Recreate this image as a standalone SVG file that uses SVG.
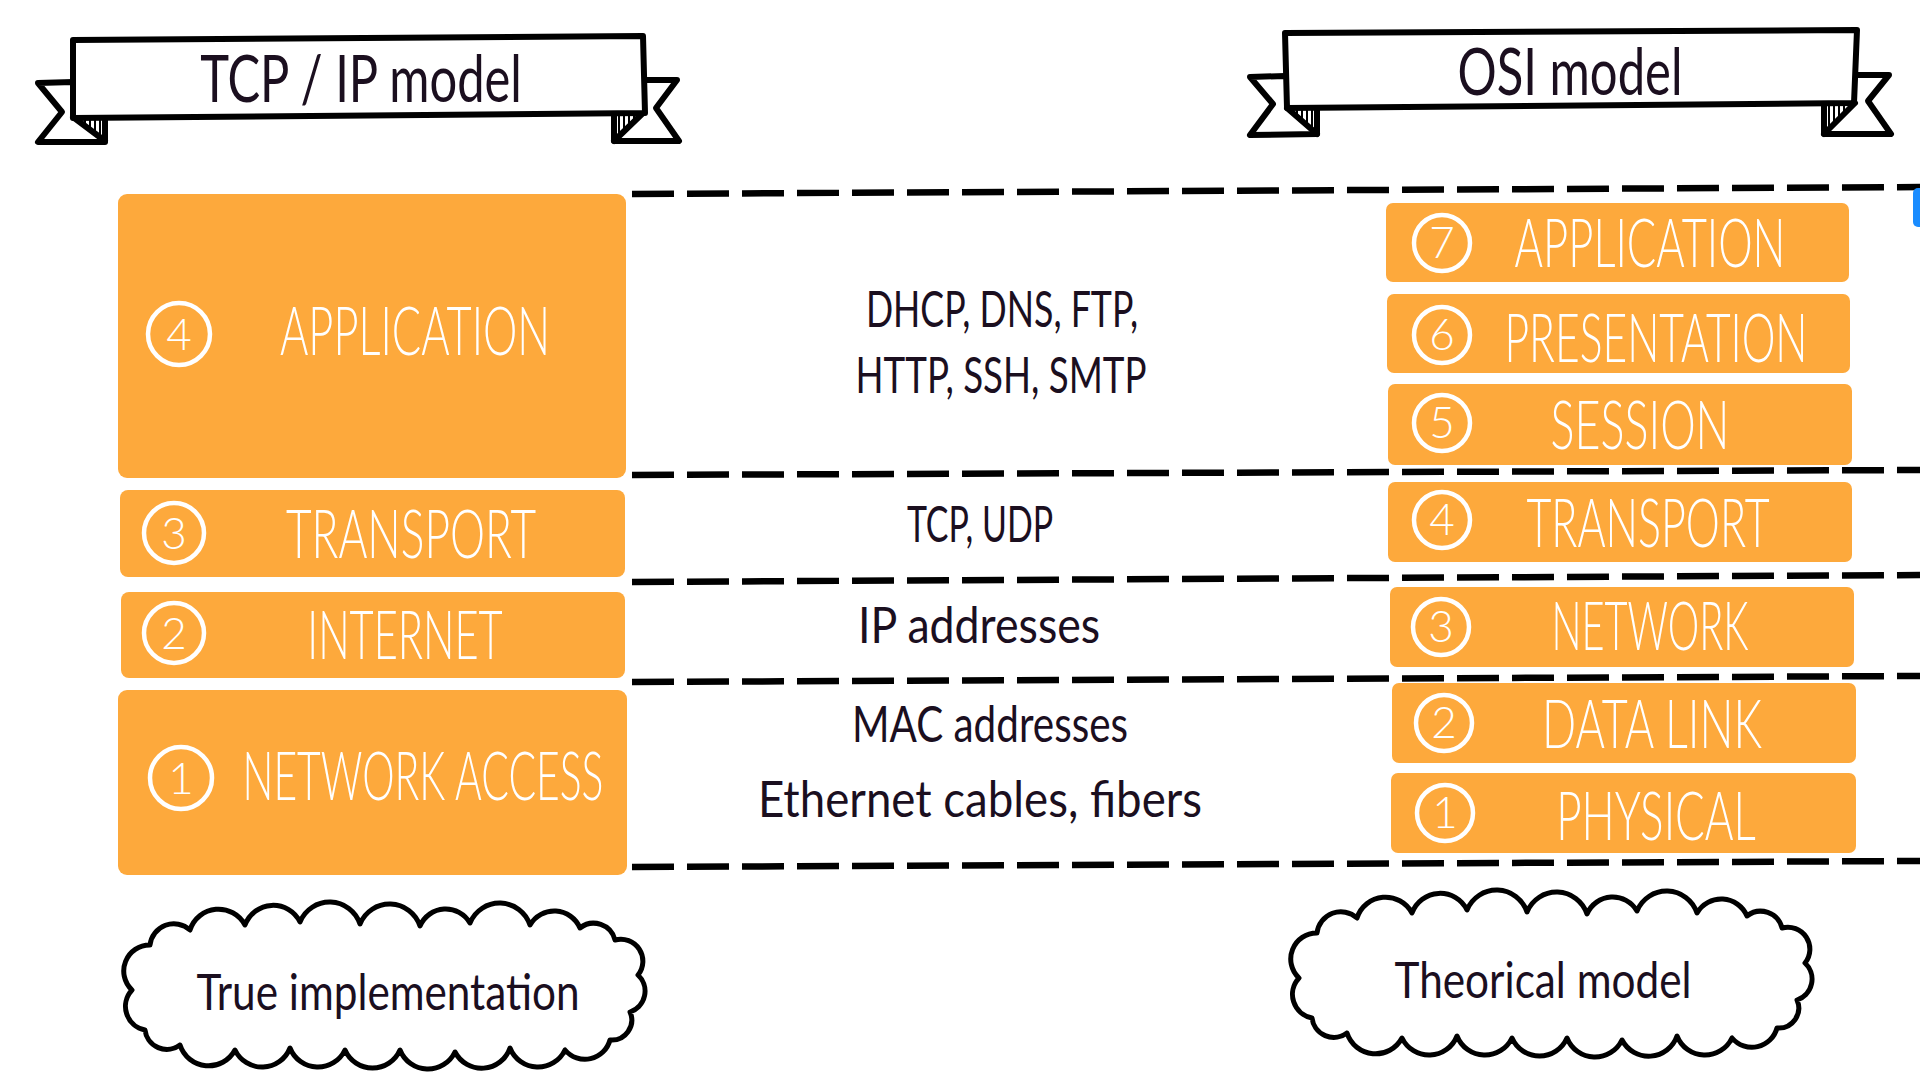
<svg xmlns="http://www.w3.org/2000/svg" xmlns:xlink="http://www.w3.org/1999/xlink" width="1920" height="1080" viewBox="0 0 1920 1080">
<style>
.bg{fill:#fff}
.box{fill:#FDA93C}
.lbl{font-family:"Lato","Liberation Sans",sans-serif;font-weight:300;fill:#fff;font-size:68px;text-anchor:middle}
.ring{fill:none;stroke:#fff;stroke-width:4.5}
.dig{font-family:"Lato","Liberation Sans",sans-serif;font-weight:300;fill:#fff;font-size:44px;text-anchor:middle}
.ink{font-family:"Lato","Liberation Sans",sans-serif;font-weight:400;fill:#1B0F1F;text-anchor:middle;font-size:50px}
.ttl{font-family:"Lato","Liberation Sans",sans-serif;font-weight:400;fill:#1B0F1F;text-anchor:middle;font-size:66px}
.dash{stroke:#000;stroke-width:6.5;stroke-dasharray:42 13;fill:none}
.outline{stroke:#000;stroke-width:6;fill:#fff;stroke-linejoin:round;stroke-linecap:round}
.hatch{stroke:#000;stroke-width:2}
.cloud{stroke:#000;stroke-width:5;fill:#fff;stroke-linejoin:round}
</style>
<defs>
<path id="cloudShape" d="M150,945 A24,24 0 0 1 190,930 A30,30 0 0 1 245,925 A30,30 0 0 1 300,922 A32,32 0 0 1 360,924 A32,32 0 0 1 420,926 A28,28 0 0 1 470,923 A32,32 0 0 1 530,925 A28,28 0 0 1 580,928 A22,22 0 0 1 615,940 A22,22 0 0 1 638,975 A22,22 0 0 1 630,1012 A20,20 0 0 1 610,1040 A26,26 0 0 1 565,1050 A30,30 0 0 1 510,1048 A30,30 0 0 1 455,1052 A30,30 0 0 1 400,1050 A30,30 0 0 1 345,1050 A30,30 0 0 1 290,1048 A30,30 0 0 1 235,1050 A30,30 0 0 1 180,1045 A22,22 0 0 1 145,1030 A24,24 0 0 1 132,990 A26,26 0 0 1 150,945 Z"/>
</defs>
<rect class="bg" x="0" y="0" width="1920" height="1080"/>

<g id="banner-tcpip">
  <polygon class="outline" points="73,82 38,83 62,112 38,142 105,142 105,119"/>
  <polygon class="outline" points="643,80 677,80 656,108 679,141 614,141 614,115"/>
  <line class="hatch" x1="80" y1="118" x2="80" y2="121"/>
  <line class="hatch" x1="85" y1="118" x2="85" y2="125"/>
  <line class="hatch" x1="90" y1="118" x2="90" y2="129"/>
  <line class="hatch" x1="95" y1="118" x2="95" y2="133"/>
  <line class="hatch" x1="100" y1="118" x2="100" y2="137"/>
  <line class="hatch" x1="619" y1="114" x2="619" y2="135"/>
  <line class="hatch" x1="624" y1="114" x2="624" y2="131"/>
  <line class="hatch" x1="629" y1="114" x2="629" y2="126"/>
  <line class="hatch" x1="634" y1="114" x2="634" y2="121"/>
  <line class="hatch" x1="639" y1="114" x2="639" y2="117"/>
  <line class="outline" x1="73" y1="117" x2="105" y2="141"/>
  <line class="outline" x1="643" y1="113" x2="614" y2="141"/>
  <polygon class="outline" points="73,40 643,36 645,113 73,118"/>
  <text class="ttl" transform="translate(361,102) scale(0.75,1)" x="0" y="0" textLength="429" lengthAdjust="spacingAndGlyphs">TCP / IP model</text>
</g>

<g id="banner-osi">
  <polygon class="outline" points="1285,76 1250,77 1273,104 1250,135 1317,134 1317,109"/>
  <polygon class="outline" points="1856,75 1889,75 1868,101 1891,134 1824,134 1824,104"/>
  <line class="hatch" x1="1292" y1="109" x2="1292" y2="112"/>
  <line class="hatch" x1="1297" y1="109" x2="1297" y2="116"/>
  <line class="hatch" x1="1302" y1="109" x2="1302" y2="121"/>
  <line class="hatch" x1="1307" y1="109" x2="1307" y2="125"/>
  <line class="hatch" x1="1312" y1="109" x2="1312" y2="129"/>
  <line class="hatch" x1="1829" y1="104" x2="1829" y2="128"/>
  <line class="hatch" x1="1834" y1="104" x2="1834" y2="123"/>
  <line class="hatch" x1="1839" y1="104" x2="1839" y2="118"/>
  <line class="hatch" x1="1844" y1="104" x2="1844" y2="113"/>
  <line class="hatch" x1="1849" y1="104" x2="1849" y2="108"/>
  <line class="outline" x1="1287" y1="108" x2="1317" y2="134"/>
  <line class="outline" x1="1855" y1="103" x2="1824" y2="134"/>
  <polygon class="outline" points="1285,33 1857,30 1854,103 1287,108"/>
  <text class="ttl" transform="translate(1570,95) scale(0.75,1)" x="0" y="0" textLength="300" lengthAdjust="spacingAndGlyphs">OSI model</text>
</g>

<g id="connectors">
  <line class="dash" x1="632" y1="194" x2="1920" y2="187"/>
  <line class="dash" x1="632" y1="475" x2="1920" y2="470"/>
  <line class="dash" x1="632" y1="582" x2="1920" y2="575"/>
  <line class="dash" x1="632" y1="682" x2="1920" y2="676"/>
  <line class="dash" x1="632" y1="867" x2="1920" y2="861"/>
</g>

<g id="tcp-application">
  <rect class="box" x="118" y="194" width="508" height="284" rx="9"/>
  <circle class="ring" cx="179" cy="334" r="31"/>
  <text class="dig" x="179" y="350">4</text>
  <text class="lbl" transform="translate(415,355) scale(0.63,1)" x="0" y="0" font-size="70" textLength="429" lengthAdjust="spacingAndGlyphs">APPLICATION</text>
</g>
<g id="tcp-transport">
  <rect class="box" x="120" y="490" width="505" height="87" rx="8"/>
  <circle class="ring" cx="174" cy="533" r="30"/>
  <text class="dig" x="174" y="549">3</text>
  <text class="lbl" transform="translate(411,558) scale(0.63,1)" x="0" y="0" textLength="397" lengthAdjust="spacingAndGlyphs">TRANSPORT</text>
</g>
<g id="tcp-internet">
  <rect class="box" x="121" y="592" width="504" height="86" rx="8"/>
  <circle class="ring" cx="174" cy="633" r="30"/>
  <text class="dig" x="174" y="649">2</text>
  <text class="lbl" transform="translate(405,659) scale(0.63,1)" x="0" y="0" textLength="310" lengthAdjust="spacingAndGlyphs">INTERNET</text>
</g>
<g id="tcp-network-access">
  <rect class="box" x="118" y="690" width="509" height="185" rx="9"/>
  <circle class="ring" cx="181" cy="778" r="31"/>
  <text class="dig" x="181" y="794">1</text>
  <text class="lbl" transform="translate(423,800) scale(0.63,1)" x="0" y="0" font-size="70" textLength="573" lengthAdjust="spacingAndGlyphs">NETWORK ACCESS</text>
</g>

<g id="proto-application">
  <text class="ink" transform="translate(1002,327) scale(0.75,1)" x="0" y="0" font-size="54" textLength="363" lengthAdjust="spacingAndGlyphs">DHCP, DNS, FTP,</text>
  <text class="ink" transform="translate(1001,393) scale(0.75,1)" x="0" y="0" font-size="54" textLength="388" lengthAdjust="spacingAndGlyphs">HTTP, SSH, SMTP</text>
</g>
<g id="proto-transport">
  <text class="ink" transform="translate(980,542) scale(0.75,1)" x="0" y="0" font-size="54" textLength="195" lengthAdjust="spacingAndGlyphs">TCP, UDP</text>
</g>
<g id="proto-internet">
  <text class="ink" transform="translate(979,643) scale(0.75,1)" x="0" y="0" textLength="323" lengthAdjust="spacingAndGlyphs">IP addresses</text>
</g>
<g id="proto-network-access">
  <text class="ink" transform="translate(990,742) scale(0.75,1)" x="0" y="0" textLength="368" lengthAdjust="spacingAndGlyphs">MAC addresses</text>
  <text class="ink" transform="translate(980,817) scale(0.75,1)" x="0" y="0" textLength="592" lengthAdjust="spacingAndGlyphs">Ethernet cables, fibers</text>
</g>

<g id="osi-application">
  <rect class="box" x="1386" y="203" width="463" height="79" rx="7"/>
  <circle class="ring" cx="1442" cy="243" r="28"/>
  <text class="dig" x="1442" y="258">7</text>
  <text class="lbl" transform="translate(1650,267) scale(0.63,1)" x="0" y="0" font-size="66" textLength="430" lengthAdjust="spacingAndGlyphs">APPLICATION</text>
</g>
<g id="osi-presentation">
  <rect class="box" x="1387" y="294" width="463" height="79" rx="7"/>
  <circle class="ring" cx="1442" cy="335" r="28"/>
  <text class="dig" x="1442" y="350">6</text>
  <text class="lbl" transform="translate(1656,362) scale(0.63,1)" x="0" y="0" font-size="66" textLength="481" lengthAdjust="spacingAndGlyphs">PRESENTATION</text>
</g>
<g id="osi-session">
  <rect class="box" x="1388" y="384" width="464" height="81" rx="7"/>
  <circle class="ring" cx="1442" cy="423" r="28"/>
  <text class="dig" x="1442" y="438">5</text>
  <text class="lbl" transform="translate(1640,449) scale(0.63,1)" x="0" y="0" font-size="66" textLength="284" lengthAdjust="spacingAndGlyphs">SESSION</text>
</g>
<g id="osi-transport">
  <rect class="box" x="1388" y="482" width="464" height="80" rx="7"/>
  <circle class="ring" cx="1442" cy="520" r="28"/>
  <text class="dig" x="1442" y="535">4</text>
  <text class="lbl" transform="translate(1648,547) scale(0.63,1)" x="0" y="0" font-size="66" textLength="386" lengthAdjust="spacingAndGlyphs">TRANSPORT</text>
</g>
<g id="osi-network">
  <rect class="box" x="1390" y="587" width="464" height="80" rx="7"/>
  <circle class="ring" cx="1441" cy="627" r="28"/>
  <text class="dig" x="1441" y="642">3</text>
  <text class="lbl" transform="translate(1650,650) scale(0.63,1)" x="0" y="0" font-size="66" textLength="313" lengthAdjust="spacingAndGlyphs">NETWORK</text>
</g>
<g id="osi-data-link">
  <rect class="box" x="1392" y="683" width="464" height="80" rx="7"/>
  <circle class="ring" cx="1444" cy="723" r="28"/>
  <text class="dig" x="1444" y="738">2</text>
  <text class="lbl" transform="translate(1652,748) scale(0.63,1)" x="0" y="0" font-size="66" textLength="349" lengthAdjust="spacingAndGlyphs">DATA LINK</text>
</g>
<g id="osi-physical">
  <rect class="box" x="1391" y="773" width="465" height="80" rx="7"/>
  <circle class="ring" cx="1445" cy="813" r="28"/>
  <text class="dig" x="1445" y="828">1</text>
  <text class="lbl" transform="translate(1656,840) scale(0.63,1)" x="0" y="0" font-size="66" textLength="317" lengthAdjust="spacingAndGlyphs">PHYSICAL</text>
</g>

<g id="cloud-true">
  <use xlink:href="#cloudShape" href="#cloudShape" class="cloud"/>
  <text class="ink" transform="translate(388,1010) scale(0.75,1)" x="0" y="0" font-size="52" textLength="511" lengthAdjust="spacingAndGlyphs">True implementation</text>
</g>
<g id="cloud-theorical">
  <use xlink:href="#cloudShape" href="#cloudShape" class="cloud" transform="translate(1167,-12)"/>
  <text class="ink" transform="translate(1543,998) scale(0.75,1)" x="0" y="0" font-size="52" textLength="396" lengthAdjust="spacingAndGlyphs">Theorical model</text>
</g>

<rect x="1913" y="188" width="20" height="39" rx="5" fill="#1A8CFF"/>
</svg>
